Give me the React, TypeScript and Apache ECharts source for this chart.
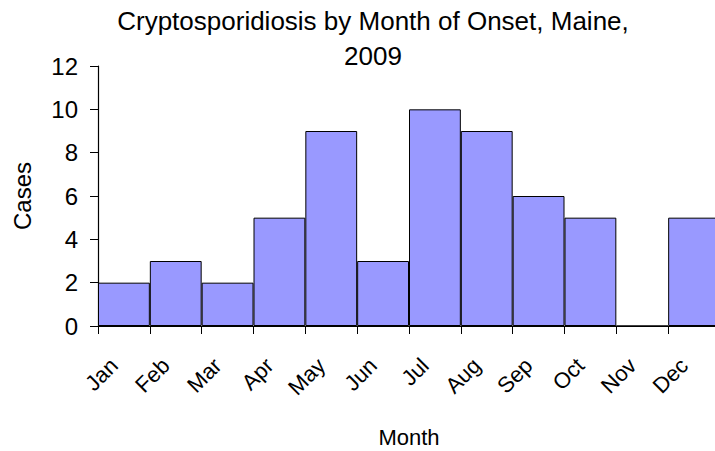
import React, { useEffect, useRef } from "react";
import * as echarts from "echarts";

const months = ["Jan", "Feb", "Mar", "Apr", "May", "Jun", "Jul", "Aug", "Sep", "Oct", "Nov", "Dec"];
const cases = [2, 3, 2, 5, 9, 3, 10, 9, 6, 5, 0, 5];
const titleText = "Cryptosporidiosis by Month of Onset, Maine,\n2009";

export default function App() {
  const ref = useRef<HTMLDivElement>(null);
  useEffect(() => {
    if (!ref.current) return;
    const chart = echarts.init(ref.current, null, { renderer: "svg" });
    const font = "Liberation Sans, Arial, sans-serif";
    chart.setOption({
      animation: false,
      backgroundColor: "#ffffff",
      title: {
        text: titleText,
        left: 368,
        textAlign: "center",
        top: -2,
        textStyle: { fontFamily: font, fontSize: 26, fontWeight: "normal", color: "#000", lineHeight: 35 },
      },
      grid: { left: 98, top: 66, width: 622, height: 260, outerBoundsMode: "none", containLabel: false },
      xAxis: {
        type: "category",
        data: months,
        name: "Month",
        nameLocation: "middle",
        nameGap: 100,
        nameTextStyle: { fontFamily: font, fontSize: 22, color: "#000" },
        axisLine: { lineStyle: { color: "#000", width: 1.2 } },
        axisTick: { show: true, length: 8, lineStyle: { color: "#000" } },
        axisLabel: { rotate: 45, fontFamily: font, fontSize: 22, color: "#000", margin: 26, padding: [0, 14, 0, 0] },
      },
      yAxis: {
        type: "value",
        min: 0,
        max: 12,
        interval: 2,
        name: "Cases",
        nameLocation: "middle",
        nameGap: 64,
        nameTextStyle: { fontFamily: font, fontSize: 24, color: "#000" },
        axisLine: { show: true, lineStyle: { color: "#000", width: 1.2 } },
        axisTick: { show: true, length: 8, lineStyle: { color: "#000" } },
        axisLabel: { fontFamily: font, fontSize: 24, color: "#000", margin: 20 },
        splitLine: { show: false },
      },
      series: [
        {
          type: "bar",
          data: cases,
          barWidth: "100%",
          barCategoryGap: "0%",
          itemStyle: { color: "#9999FF", borderColor: "#000", borderWidth: 1 },
        },
      ],
    });
    return () => chart.dispose();
  }, []);
  return <div ref={ref} style={{ width: 715, height: 451, position: "absolute", left: 0, top: 0 }} />;
}
